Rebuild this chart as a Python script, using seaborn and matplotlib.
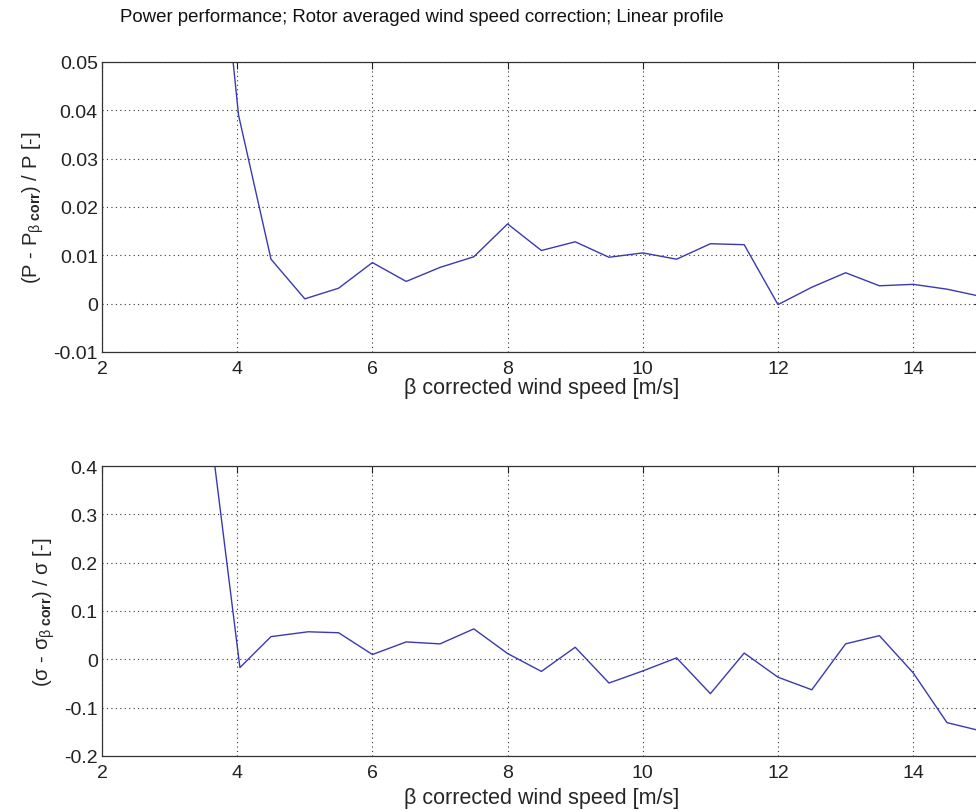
import matplotlib
matplotlib.use("Agg")
import matplotlib.pyplot as plt
import seaborn as sns
import pandas as pd

# ---- data ----
wind_speed = [3.5, 4.02, 4.5, 5.0, 5.5, 6.0, 6.5, 7.0, 7.5, 8.0, 8.5, 9.0, 9.5, 10.0,
              10.5, 11.0, 11.5, 12.0, 12.5, 13.0, 13.5, 14.0, 14.5, 15.0]
power_rel_diff = [0.11, 0.039, 0.0092, 0.0010, 0.0032, 0.0085, 0.0046, 0.0075, 0.0097,
                  0.0165, 0.0110, 0.0128, 0.0096, 0.0105, 0.0092, 0.0124, 0.0122,
                  -0.0002, 0.0034, 0.0064, 0.0037, 0.0040, 0.0030, 0.0015]
wind_speed_sigma = [3.5, 4.04, 4.5, 5.05, 5.5, 6.0, 6.5, 7.0, 7.5, 8.0, 8.5, 9.0, 9.5,
                    10.0, 10.5, 11.0, 11.5, 12.0, 12.5, 13.0, 13.5, 14.0, 14.5, 15.0]
sigma_rel_diff = [0.59, -0.017, 0.047, 0.057, 0.055, 0.010, 0.036, 0.032, 0.063, 0.012,
                  -0.025, 0.025, -0.049, -0.024, 0.003, -0.071, 0.013, -0.037, -0.063,
                  0.032, 0.049, -0.028, -0.131, -0.148]

x_ticks = [2, 4, 6, 8, 10, 12, 14]
title_text = "Power performance; Rotor averaged wind speed correction; Linear profile"
xlabel_text = "\u03b2 corrected wind speed [m/s]"
ylabel_top = r"(P - P$_{\beta\ \mathbf{corr}}$) / P [-]"
ylabel_bot = r"($\sigma$ - $\sigma_{\beta\ \mathbf{corr}}$) / $\sigma$ [-]"

df_p = pd.DataFrame({"ws": wind_speed, "val": power_rel_diff})
df_s = pd.DataFrame({"ws": wind_speed_sigma, "val": sigma_rel_diff})

sns.set_style("white")
plt.rcParams["font.family"] = ["Liberation Sans", "DejaVu Sans"]
plt.rcParams["mathtext.fontset"] = "custom"
plt.rcParams["mathtext.rm"] = "Liberation Sans"
plt.rcParams["mathtext.it"] = "Liberation Sans"
plt.rcParams["mathtext.bf"] = "Liberation Sans:bold"
plt.rcParams["mathtext.sf"] = "Liberation Sans"

fig = plt.figure(figsize=(9.76, 8.12), dpi=100)
W = 13 * 67.6 / 976
ax1 = fig.add_axes([102 / 976, 1 - 353 / 812, W, 290 / 812])
ax2 = fig.add_axes([102 / 976, 1 - 757 / 812, W, 290 / 812])

line_color = "#3a3ab0"
sns.lineplot(data=df_p, x="ws", y="val", ax=ax1, color=line_color, linewidth=1.0)
sns.lineplot(data=df_s, x="ws", y="val", ax=ax2, color=line_color, linewidth=1.0)

def style(ax, ylim, yticks, ylabels, ylabel, xpad):
    ax.set_xlim(2, 15)
    ax.set_ylim(*ylim)
    ax.set_xticks(x_ticks)
    ax.set_xticklabels([str(t) for t in x_ticks])
    ax.set_yticks(yticks)
    ax.set_yticklabels(ylabels)
    ax.grid(True, linestyle=(0, (1, 3)), color="black", linewidth=0.8, alpha=0.8)
    ax.tick_params(direction="in", length=5, width=0.8, labelsize=14,
                   top=True, right=True, colors="#222222", pad=3)
    ax.tick_params(axis="x", pad=6)
    for s in ax.spines.values():
        s.set_color("#333333")
        s.set_linewidth(0.9)
    ax.set_xlabel(xlabel_text, fontsize=15.5, labelpad=xpad)
    ax.set_ylabel(ylabel, fontsize=14.5, labelpad=5)

style(ax1, (-0.01, 0.05), [-0.01, 0, 0.01, 0.02, 0.03, 0.04, 0.05],
      ["-0.01", "0", "0.01", "0.02", "0.03", "0.04", "0.05"], ylabel_top, 0)
style(ax2, (-0.2, 0.4), [-0.2, -0.1, 0, 0.1, 0.2, 0.3, 0.4],
      ["-0.2", "-0.1", "0", "0.1", "0.2", "0.3", "0.4"], ylabel_bot, 4)

fig.text(120 / 976, 1 - 18 / 812, title_text, fontsize=13.4, ha="left", va="center",
         color="#111111")

fig.savefig("out.png", dpi=100)
